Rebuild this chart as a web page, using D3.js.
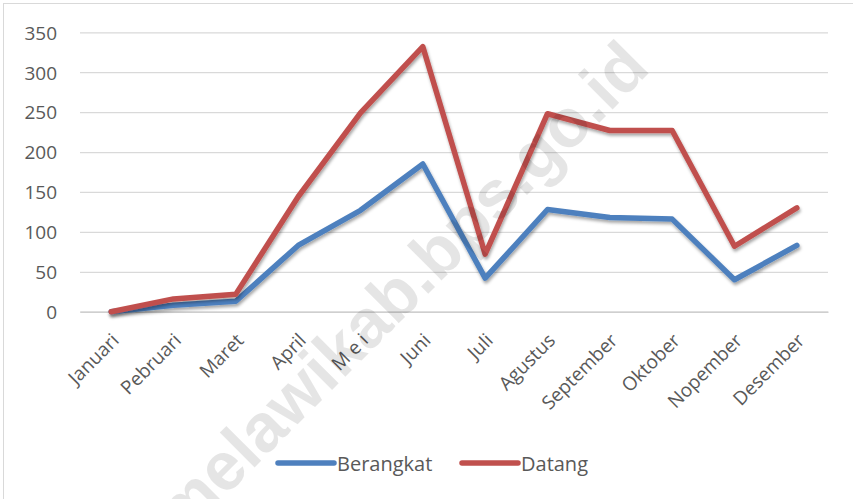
<!DOCTYPE html>
<html><head><meta charset="utf-8">
<script src="https://cdn.jsdelivr.net/npm/d3@7/dist/d3.min.js"></script>
<style>html,body{margin:0;padding:0;background:#fff;}</style>
</head><body>
<svg id="chart" width="853" height="499"></svg>
<script>
const months = ["Januari","Pebruari","Maret","April","M e i","Juni","Juli","Agustus","September","Oktober","Nopember","Desember"];
const berangkat = [0, 8, 13, 83, 127, 185, 42, 128, 118, 116, 40, 83];
const datang    = [0, 16, 22, 144, 249, 332, 72, 248, 227, 227, 82, 130];
const yTicks = [0, 50, 100, 150, 200, 250, 300, 350];
const seriesNames = ["Berangkat", "Datang"];
const seriesColors = ["#4E80BE", "#C0504D"];
const watermarkText = "melawikab.bps.go.id";

const svg = d3.select("#chart");
const font = "'Open Sans', sans-serif";
const textColor = "#595959";

// border
svg.append("rect").attr("x", 3.5).attr("y", 3.5).attr("width", 900).attr("height", 600)
  .attr("fill", "#fff").attr("stroke", "#d9d9d9").attr("stroke-width", 1);

const defs = svg.append("defs");
const f = defs.append("filter").attr("id", "shadow").attr("x", "-10%").attr("y", "-10%").attr("width", "120%").attr("height", "130%");
f.append("feDropShadow").attr("dx", 1).attr("dy", 2.5).attr("stdDeviation", 1.6)
  .attr("flood-color", "#000").attr("flood-opacity", 0.35);

const x = d3.scaleBand().domain(months).range([80, 828]);
const y = d3.scaleLinear().domain([0, 350]).range([311.7, 32.3]);

// gridlines
const yAxis = d3.axisLeft(y).tickValues(yTicks).tickSize(-(828 - 80)).tickPadding(23).tickFormat(d3.format("d"));
const gy = svg.append("g").attr("transform", "translate(80,0)").call(yAxis);
gy.select(".domain").remove();
gy.selectAll(".tick line").attr("stroke", "#d9d9d9").attr("stroke-width", 1.2);
gy.selectAll(".tick text").attr("fill", textColor).style("font-family", font).style("font-size", "19px").attr("dy", "0.36em");

// x axis
const xAxis = d3.axisBottom(x).tickSize(0).tickPadding(0);
const gx = svg.append("g").attr("transform", `translate(0,${y(0)})`).call(xAxis);
gx.select(".domain").attr("stroke", "#cfcfcf").attr("stroke-width", 1.5);
gx.selectAll(".tick text")
  .attr("fill", textColor).style("font-family", font).style("font-size", "19px")
  .attr("text-anchor", "end").attr("y", 0).attr("dy", 0)
  .attr("transform", "translate(9,30) rotate(-45)");

// lines
const line = d3.line().x((d, i) => x(months[i]) + x.bandwidth() / 2).y(d => y(d));
[berangkat, datang].forEach((s, k) => {
  svg.append("path").datum(s).attr("d", line)
    .attr("fill", "none").attr("stroke", seriesColors[k]).attr("stroke-width", 5.5)
    .attr("stroke-linejoin", "round").attr("stroke-linecap", "round")
    .attr("filter", "url(#shadow)");
});

// legend
const legendX = [278, 462];
seriesNames.forEach((n, k) => {
  const g = svg.append("g");
  g.append("line").attr("x1", legendX[k]).attr("x2", legendX[k] + 56).attr("y1", 463).attr("y2", 463)
    .attr("stroke", seriesColors[k]).attr("stroke-width", 5.5).attr("stroke-linecap", "round");
  g.append("text").attr("x", legendX[k] + 59).attr("y", 471).text(n)
    .attr("fill", textColor).style("font-family", font).style("font-size", "20px");
});

// watermark
svg.append("text").text(watermarkText)
  .attr("text-anchor", "end")
  .attr("transform", "translate(652,70) rotate(-45)")
  .attr("fill", "#000").attr("fill-opacity", 0.10)
  .style("font-family", "'Liberation Sans', Arial, sans-serif").style("font-weight", "bold").style("font-size", "68px");
</script>
</body></html>
